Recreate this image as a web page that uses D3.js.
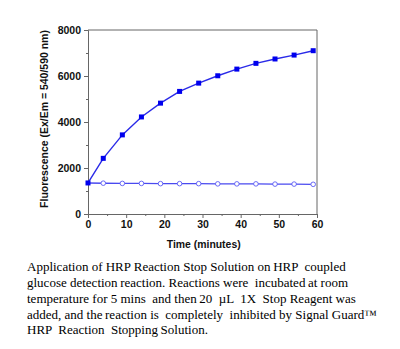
<!DOCTYPE html>
<html>
<head>
<meta charset="utf-8">
<script src="https://cdn.jsdelivr.net/npm/d3@7"></script>
<style>
  html, body { margin: 0; padding: 0; background: #fff; }
  svg { display: block; }
</style>
</head>
<body>
<svg id="chart" width="400" height="349"></svg>
<script>
// Sampling times (minutes)
const times = [0, 4, 9, 14, 19, 24, 29, 34, 39, 44, 49, 54, 59];
// Fluorescence of the uninhibited HRP reaction
const activeValues = [1350, 2420, 3440, 4220, 4820, 5330, 5690, 6010, 6300, 6550, 6740, 6910, 7100];
// Fluorescence after adding the stop reagent
const stoppedValues = [1350, 1340, 1330, 1330, 1320, 1320, 1320, 1310, 1310, 1310, 1300, 1300, 1290];
const xTicks = [0, 10, 20, 30, 40, 50, 60];
const yTicks = [0, 2000, 4000, 6000, 8000];
const captionLines = [
  "Application of HRP Reaction Stop Solution on\u2009HRP  coupled",
  "glucose detection\u2009reaction. Reactions were  incubated\u2009at room",
  "temperature for 5 mins  and then\u200920  \u00b5L  1X  Stop Reagent was",
  "added, and the\u2009reaction is  completely  inhibited by Signal Guard\u2122",
  "HRP  Reaction  Stopping\u2009Solution."
];

const svg = d3.select("#chart");
const plotLeft = 88, plotRight = 317, plotTop = 30, plotBottom = 214;

const x = d3.scaleLinear().domain([0, 60]).range([plotLeft, plotRight]);
const y = d3.scaleLinear().domain([0, 8000]).range([plotBottom, plotTop]);

const axisColor = "#666";
const labelFont = "Arial, 'Liberation Sans', sans-serif";

// frame (top and right edges)
svg.append("path")
  .attr("d", `M${plotLeft},${plotTop}H${plotRight}V${plotBottom}`)
  .attr("fill", "none").attr("stroke", axisColor).attr("stroke-width", 1);

// minor ticks
const xMinor = d3.range(5, 60, 10);
const yMinor = d3.range(1000, 8000, 2000);

svg.append("g").attr("transform", `translate(0,${plotBottom})`)
  .call(d3.axisBottom(x).tickValues(xTicks).tickFormat(d3.format("d")).tickSize(4).tickPadding(3));
svg.append("g").attr("transform", `translate(0,${plotBottom})`)
  .call(d3.axisBottom(x).tickValues(xMinor).tickFormat("").tickSize(2))
  .select(".domain").remove();

svg.append("g").attr("transform", `translate(${plotLeft},0)`)
  .call(d3.axisLeft(y).tickValues(yTicks).tickFormat(d3.format("d")).tickSize(4).tickPadding(3));
svg.append("g").attr("transform", `translate(${plotLeft},0)`)
  .call(d3.axisLeft(y).tickValues(yMinor).tickFormat("").tickSize(2))
  .select(".domain").remove();

svg.selectAll(".domain, .tick line").attr("stroke", axisColor);
svg.selectAll(".tick text")
  .attr("fill", "#111")
  .style("font-family", labelFont)
  .style("font-size", "10.5px")
  .style("font-weight", "bold");

// axis titles, sized to a target length
function fitText(sel, target) {
  const len = sel.node().getComputedTextLength();
  if (len > 0) sel.style("font-size", (10 * target / len).toFixed(2) + "px");
}

const xTitle = svg.append("text")
  .attr("x", 203.7).attr("y", 247.5)
  .attr("text-anchor", "middle")
  .style("font-family", labelFont).style("font-size", "10px").style("font-weight", "bold")
  .attr("fill", "#111")
  .text("Time (minutes)");
fitText(xTitle, 74);

const yTitle = svg.append("text")
  .attr("transform", `translate(47.5,119) rotate(-90)`)
  .attr("text-anchor", "middle")
  .style("font-family", labelFont).style("font-size", "10px").style("font-weight", "bold")
  .attr("fill", "#111")
  .text("Fluorescence (Ex/Em = 540/590 nm)");
fitText(yTitle, 178);

const line = d3.line().x(d => x(d[0])).y(d => y(d[1]));
const active = times.map((t, i) => [t, activeValues[i]]);
const stopped = times.map((t, i) => [t, stoppedValues[i]]);

// stopped reaction
svg.append("path").datum(stopped)
  .attr("d", line).attr("fill", "none")
  .attr("stroke", "#4a4af0").attr("stroke-width", 1.4);
svg.selectAll(".stopPt").data(stopped.slice(1)).enter().append("circle")
  .attr("cx", d => x(d[0])).attr("cy", d => y(d[1])).attr("r", 2.3)
  .attr("fill", "#fff").attr("stroke", "#5a5af5").attr("stroke-width", 0.9);

// active reaction
svg.append("path").datum(active)
  .attr("d", line).attr("fill", "none")
  .attr("stroke", "#2a2ae8").attr("stroke-width", 1.4);
svg.selectAll(".actPt").data(active).enter().append("rect")
  .attr("x", d => x(d[0]) - 2.5).attr("y", d => y(d[1]) - 2.5)
  .attr("width", 5).attr("height", 5)
  .attr("fill", "#0000ee");

// caption
const baselines = [271, 287, 303, 319, 334];
svg.append("g").selectAll("text").data(captionLines).enter().append("text")
  .attr("x", 27).attr("y", (d, i) => baselines[i])
  .style("font-family", "'Liberation Serif', 'Times New Roman', serif")
  .style("font-size", "13px")
  .attr("fill", "#000")
  .attr("xml:space", "preserve")
  .style("white-space", "pre")
  .text(d => d);
</script>
</body>
</html>
